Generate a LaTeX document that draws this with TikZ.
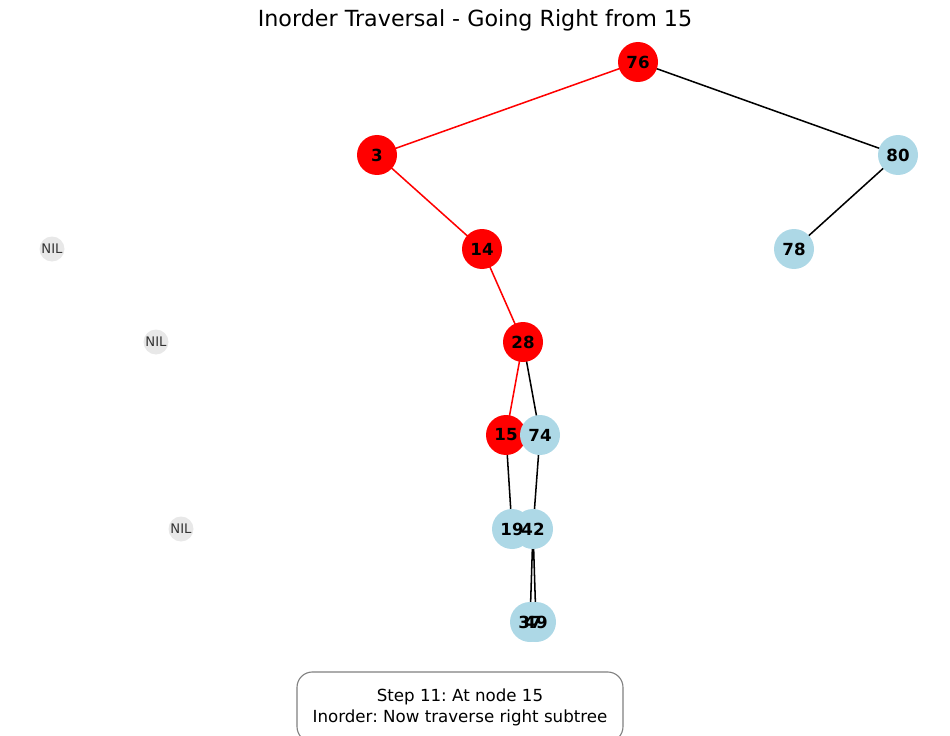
\documentclass[tikz,border=0pt]{standalone}
\usepackage{fontspec}
\setmainfont{DejaVu Sans}
\frenchspacing
\pgfdeclarelayer{edges}
\pgfdeclarelayer{discs}
\pgfsetlayers{edges,discs,main}
\definecolor{visited}{HTML}{FF0000}
\definecolor{plain}{HTML}{ADD8E6}
\definecolor{nilgray}{HTML}{E8E8E8}
\definecolor{niltext}{HTML}{333333}
\definecolor{boxgray}{HTML}{808080}
\begin{document}
\begin{tikzpicture}[x=0.72pt,y=-0.72pt,
	key/.style={circle,minimum size=28.8pt,inner sep=0pt,font=\fontsize{12}{14}\selectfont\bfseries},
	nil/.style={circle,minimum size=18pt,inner sep=0pt,fill=nilgray,text=niltext,font=\fontsize{9.5}{11}\selectfont},
	link/.style={line width=1.1pt,black},
	redlink/.style={line width=1.1pt,visited}]
	\useasboundingbox (0,0) rectangle (950,736);
	% title
	\node (title) at (475,20) {\fontsize{16}{19}\selectfont Inorder Traversal - Going Right from 15};
	% keys
	\foreach \k/\x/\y/\c in {76/638/62/visited, 3/377/155/visited, 80/898/155/plain,
		14/482/249/visited, 78/794/249/plain, 28/523/342/visited, 15/506/435/visited,
		74/540/435/plain, 19/512/529/plain, 42/533/529/plain, 37/530/622/plain, 49/536/622/plain}{
		\node[key] (k\k) at (\x,\y) {\k};
		\begin{pgfonlayer}{discs}
			\fill[\c] (k\k.center) circle[radius=14.4pt];
		\end{pgfonlayer}
	}
	% empty children
	\foreach \n/\x/\y in {a/52/249, b/156/342, c/181/529}
		\node[nil] (nil\n) at (\x,\y) {NIL};
	% links
	\begin{pgfonlayer}{edges}
		\foreach \a/\b in {76/3, 3/14, 14/28, 28/15}
			\draw[redlink] (k\a.center) -- (k\b.center);
		\foreach \a/\b in {76/80, 80/78, 28/74, 15/19, 74/42, 42/37, 42/49}
			\draw[link] (k\a.center) -- (k\b.center);
	\end{pgfonlayer}
	% status
	\node[draw=boxgray,line width=0.8pt,rounded corners=11pt,minimum width=234.7pt,minimum height=50.4pt,
		align=center,font=\fontsize{12}{15.2}\selectfont] (status) at (460,707)
		{Step 11: At node 15\\Inorder: Now traverse right subtree};
\end{tikzpicture}
\end{document}
